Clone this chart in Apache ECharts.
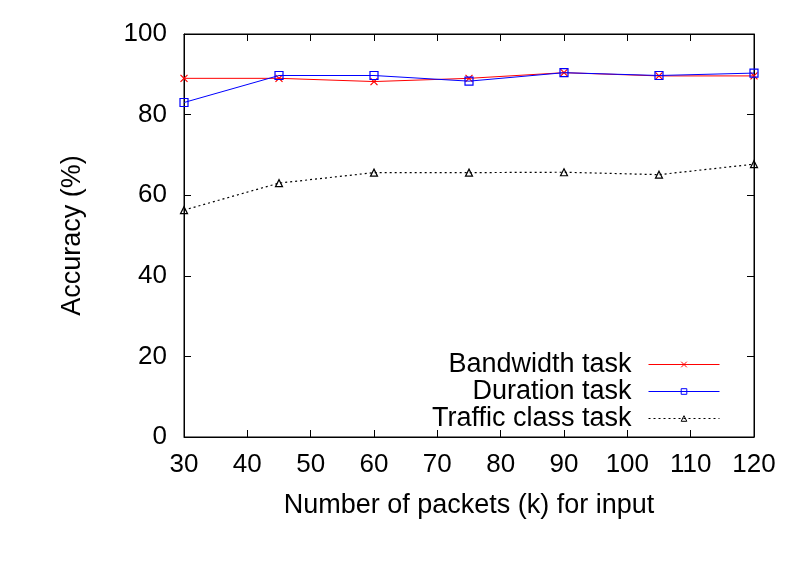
<!DOCTYPE html>
<html>
<head>
<meta charset="utf-8">
<script src="https://cdn.jsdelivr.net/npm/echarts@6/dist/echarts.min.js"></script>
<style>
	html, body { margin: 0; padding: 0; background: #fff; }
	#chart { width: 803px; height: 578px; }
</style>
</head>
<body>
<div id="chart"></div>
<script>
// 数据
var packets = [30, 45, 60, 75, 90, 105, 120];
var bandwidthAcc = [89.0, 89.0, 88.2, 89.0, 90.4, 89.6, 89.6];
var durationAcc = [83.0, 89.7, 89.7, 88.3, 90.4, 89.7, 90.3];
var trafficAcc = [56.3, 63.0, 65.6, 65.6, 65.7, 65.1, 67.7];
var seriesNames = ['Bandwidth task', 'Duration task', 'Traffic class task'];
var seriesColors = ['#ff0000', '#0000ff', '#000000'];
var seriesDash = ['solid', 'solid', [2, 3]];

var FONT = 'Liberation Sans';
var FS = 26;
var FS_BIG = 27;

function pairs(xs, ys) {
	var out = [];
	for (var i = 0; i < xs.length; i++) {
		out.push([xs[i], ys[i]]);
	}
	return out;
}

var mirrorAxis = {
	axisLine : { show : true, onZero : false, lineStyle : { color : '#000', width : 1 } },
	axisTick : { show : true, inside : true, length : 7, lineStyle : { color : '#000' } },
	axisLabel : { show : false },
	splitLine : { show : false }
};

var legendData = seriesNames.map(function (n, i) {
	return {
		name : n,
		itemStyle : { color : 'rgba(0,0,0,0)', borderColor : seriesColors[i], borderWidth : 1 },
		lineStyle : { color : seriesColors[i], width : 1, type : seriesDash[i] }
	};
});

var myChart = echarts.init(document.getElementById('chart'));
var option = {
	backgroundColor : '#fff',
	animation : false,
	textStyle : { fontFamily : FONT },
	grid : { left : 184, right : 49, top : 34, bottom : 141, show : true, borderColor : '#000', borderWidth : 1 },
	legend : {
		orient : 'vertical',
		right : 83,
		bottom : 146,
		padding : 0,
		align : 'right',
		itemWidth : 71,
		itemHeight : 7,
		itemGap : 0,
		textStyle : { fontFamily : FONT, fontSize : FS_BIG, color : '#000', padding : [0, 12, 0, 0] },
		data : legendData
	},
	xAxis : [{
		type : 'value',
		min : 30,
		max : 120,
		interval : 10,
		name : 'Number of packets (k) for input',
		nameLocation : 'middle',
		nameGap : 69,
		nameTextStyle : { fontFamily : FONT, fontSize : FS_BIG, color : '#000', verticalAlign : 'middle' },
		axisLine : { show : true, onZero : false, lineStyle : { color : '#000', width : 1 } },
		axisTick : { show : true, inside : true, length : 7, lineStyle : { color : '#000' } },
		axisLabel : { fontFamily : FONT, fontSize : FS, color : '#000', margin : 15 },
		splitLine : { show : false }
	}, echarts.util.merge({ type : 'value', position : 'top', min : 30, max : 120, interval : 10 }, mirrorAxis, true)],
	yAxis : [{
		type : 'value',
		min : 0,
		max : 100,
		interval : 20,
		name : 'Accuracy (%)',
		nameLocation : 'middle',
		nameGap : 111,
		nameTextStyle : { fontFamily : FONT, fontSize : FS_BIG, color : '#000', verticalAlign : 'middle' },
		axisLine : { show : true, onZero : false, lineStyle : { color : '#000', width : 1 } },
		axisTick : { show : true, inside : true, length : 7, lineStyle : { color : '#000' } },
		axisLabel : { fontFamily : FONT, fontSize : FS, color : '#000', margin : 17 },
		splitLine : { show : false }
	}, echarts.util.merge({ type : 'value', position : 'right', min : 0, max : 100, interval : 20 }, mirrorAxis, true)],
	series : [{
		name : seriesNames[0],
		type : 'line',
		data : pairs(packets, bandwidthAcc),
		symbol : 'path://M0,0L10,10M10,0L0,10',
		symbolSize : 7,
		lineStyle : { color : seriesColors[0], width : 1 },
		itemStyle : { color : 'rgba(0,0,0,0)', borderColor : seriesColors[0], borderWidth : 1.2 },
		z : 2
	}, {
		name : seriesNames[1],
		type : 'line',
		data : pairs(packets, durationAcc),
		symbol : 'rect',
		symbolSize : 8,
		lineStyle : { color : seriesColors[1], width : 1 },
		itemStyle : { color : 'rgba(0,0,0,0)', borderColor : seriesColors[1], borderWidth : 1.2 },
		z : 3
	}, {
		name : seriesNames[2],
		type : 'line',
		data : pairs(packets, trafficAcc),
		symbol : 'triangle',
		symbolSize : 7,
		lineStyle : { color : seriesColors[2], width : 1.2, type : seriesDash[2] },
		itemStyle : { color : 'rgba(0,0,0,0)', borderColor : seriesColors[2], borderWidth : 1.2 },
		z : 2
	}]
};
myChart.setOption(option);
</script>
</body>
</html>
